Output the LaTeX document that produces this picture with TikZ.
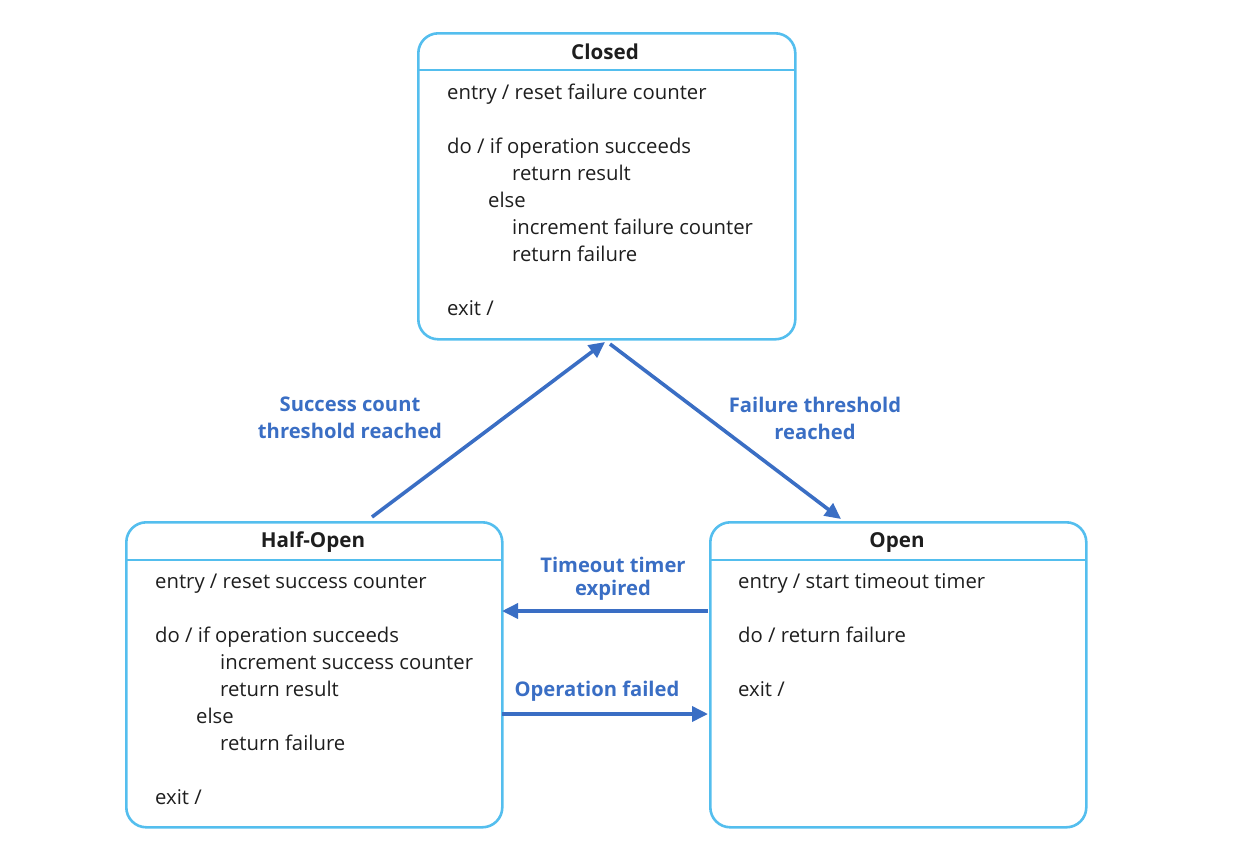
\documentclass[tikz,border=0pt]{standalone}
\usepackage{fontspec}
\setmainfont{Open Sans}
\usetikzlibrary{arrows.meta,calc}
\definecolor{boxblue}{RGB}{84,190,238}
\definecolor{arrblue}{RGB}{58,110,196}
\definecolor{txt}{RGB}{30,30,30}
\tikzset{
  statebox/.style={draw=boxblue, line width=2.6pt, rounded corners=20pt, inner sep=0pt, anchor=north west},
  divider/.style={draw=boxblue, line width=2.4pt},
  title/.style={font=\fontsize{20.6}{23}\selectfont\bfseries, text=txt, inner sep=0pt},
  body/.style={font=\fontsize{20.3}{27}\selectfont, text=txt, inner sep=0pt, anchor=base west},
  lbl/.style={font=\fontsize{20.2}{27}\selectfont\bfseries, text=arrblue, inner sep=0pt, align=center},
  trans/.style={draw=arrblue, line width=3.6pt, -{Triangle[length=16pt,width=15pt]}},
}
\begin{document}
\begin{tikzpicture}[x=1pt,y=-1pt]
\useasboundingbox (0,0) rectangle (1248,857);
% boxes
\node[statebox, minimum width=377pt, minimum height=306pt] (cl) at (417,32) {};
\node[statebox, minimum width=376pt, minimum height=305pt] (ho) at (125,521) {};
\node[statebox, minimum width=376pt, minimum height=305pt] (op) at (709,521) {};
\draw[divider] (417,70) -- (794,70);
\draw[divider] (125,560) -- (501,560);
\draw[divider] (709,560) -- (1085,560);
% titles
\node[title] (clt) at (605,52) {Closed};
\node[title] (hot) at (313,542) {Half-Open};
\node[title] (opt) at (897,542) {Open};
% Closed body
\node[body] (c1) at (447,99) {entry / reset failure counter};
\node[body] (c2) at (447,153) {do / if operation succeeds};
\node[body] (c3) at (512,180) {return result};
\node[body] (c4) at (488,207) {else};
\node[body] (c5) at (512,234) {increment failure counter};
\node[body] (c6) at (512,261) {return failure};
\node[body] (c7) at (447,315) {exit /};
% Half-Open body
\node[body] (h1) at (155,588) {entry / reset success counter};
\node[body] (h2) at (155,642) {do / if operation succeeds};
\node[body] (h3) at (220,669) {increment success counter};
\node[body] (h4) at (220,696) {return result};
\node[body] (h5) at (196,723) {else};
\node[body] (h6) at (220,750) {return failure};
\node[body] (h7) at (155,804) {exit /};
% Open body
\node[body] (o1) at (738,588) {entry / start timeout timer};
\node[body] (o2) at (738,642) {do / return failure};
\node[body] (o3) at (738,696) {exit /};
% connector ends
\coordinate (hoTop) at (372,517);
\coordinate (clBotL) at (605,342);
\coordinate (clBotR) at (610,344);
\coordinate (opTop) at (841,519);
\coordinate (opLeftA) at (708,611);
\coordinate (hoRightA) at (502,611);
\coordinate (hoRightB) at (502,714);
\coordinate (opLeftB) at (708,714);
\draw[trans] (hoTop) -- (clBotL);
\draw[trans] (clBotR) -- (opTop);
\draw[trans] (opLeftA) -- (hoRightA);
\draw[trans] (hoRightB) -- (opLeftB);
% labels
\node[lbl] (l1) at (350,418) {Success count\\threshold reached};
\node[lbl] (l2) at (815,418) {Failure threshold\\reached};
\node[lbl, font=\fontsize{20.2}{23}\selectfont\bfseries] (l3) at (613,579) {Timeout timer\\expired};
\node[lbl] (l4) at (597,691) {Operation failed};
\end{tikzpicture}
\end{document}
